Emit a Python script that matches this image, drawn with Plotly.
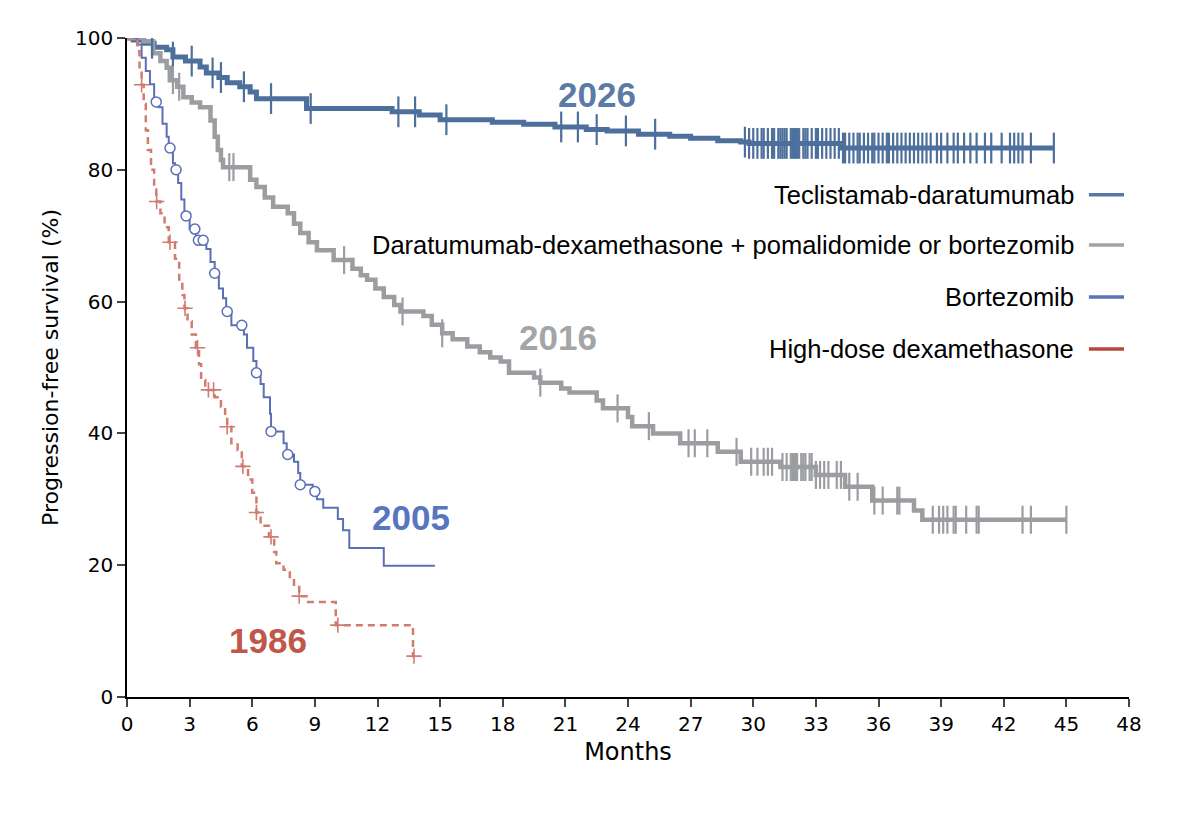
import numpy as np
import plotly.graph_objects as go

# Kaplan-Meier step points (months, % progression-free)
tec_t = [0, 0.3, 0.8, 1.3, 1.9, 2.2, 2.8, 3.5, 3.8, 4.4, 4.8, 5.4, 5.9, 6.2, 8.6,
         12.7, 14.0, 15.0, 17.5, 19.0, 20.5, 22.0, 23.0, 24.5, 26.0, 27.0, 28.3,
         29.4, 29.8, 34.2, 44.4]
tec_s = [100, 99.7, 99.2, 98.6, 98.2, 97.1, 96.5, 95.6, 94.7, 94.0, 93.2, 92.6,
         91.8, 90.8, 89.3, 88.8, 88.3, 87.6, 87.2, 86.9, 86.5, 86.1, 85.9, 85.4,
         85.1, 84.8, 84.4, 84.2, 84.0, 83.3, 83.3]
tec_cens = [1.2, 2.2, 3.1, 4.1, 4.5, 5.6, 6.9, 8.8, 13.0, 13.8, 15.3, 20.8, 21.6,
            22.5, 23.9, 25.3, 29.6, 29.8, 30.0, 30.2, 30.4, 30.5, 30.7, 30.9,
            31.0, 31.2, 31.3, 31.4, 31.5, 31.6, 31.8, 31.9, 32.0, 32.1, 32.2,
            32.4, 32.5, 32.6, 32.8, 33.0, 33.1, 33.3, 33.5, 33.7, 33.9, 34.1,
            34.3, 34.4, 34.6, 34.8, 35.0, 35.1, 35.3, 35.5, 35.7, 35.8, 36.0,
            36.2, 36.4, 36.5, 36.7, 36.9, 37.1, 37.3, 37.5, 37.7, 37.9, 38.1,
            38.3, 38.5, 38.8, 39.0, 39.3, 39.6, 39.8, 40.1, 40.4, 40.7, 41.1,
            41.4, 41.9, 42.3, 42.5, 42.7, 42.9, 43.3, 44.4]

dara_t = [0, 0.8, 1.25, 1.6, 1.9, 2.05, 2.4, 2.7, 3.1, 3.5, 4.0, 4.2, 4.35, 4.5,
          4.6, 5.9, 6.2, 6.6, 7.0, 7.7, 8.0, 8.3, 8.7, 9.1, 9.9, 10.8, 11.2, 11.5,
          11.9, 12.3, 12.8, 13.1, 14.2, 14.6, 15.1, 15.6, 16.3, 16.9, 17.4, 17.9,
          18.3, 19.5, 19.8, 20.8, 21.2, 22.5, 22.8, 24.0, 24.2, 25.2, 26.5, 28.3,
          29.4, 31.3, 33.0, 34.4, 35.7, 37.7, 38.1, 45.0]
dara_s = [100, 99.5, 97.7, 96.5, 95.5, 93.6, 92.6, 91.0, 90.2, 89.5, 87.5, 85.0,
          83.0, 81.5, 80.4, 78.5, 77.4, 75.8, 74.4, 73.4, 71.8, 70.4, 69.0, 67.8,
          66.3, 65.0, 64.0, 63.3, 62.0, 60.7, 59.5, 58.5, 57.8, 56.5, 55.2, 54.3,
          53.2, 52.3, 51.5, 50.9, 49.2, 48.5, 47.7, 46.8, 46.2, 45.0, 43.8, 42.5,
          41.1, 40.0, 38.5, 37.2, 35.7, 34.9, 33.7, 31.9, 29.8, 28.3, 26.9, 26.9]
dara_cens = [2.2, 2.5, 4.9, 5.1, 10.4, 13.2, 15.1, 19.8, 23.5, 25.0, 26.9, 27.2,
             27.8, 29.2, 29.9, 30.2, 30.5, 30.7, 30.9, 31.4, 31.6, 31.8, 31.9,
             32.0, 32.1, 32.3, 32.4, 32.5, 32.7, 32.8, 33.0, 33.2, 33.4, 33.6,
             34.0, 34.2, 34.6, 35.0, 35.8, 36.2, 36.9, 37.0, 38.6, 38.9, 39.1,
             39.3, 39.6, 39.7, 40.2, 40.7, 40.8, 42.9, 43.3, 45.0]

bort_t = [0, 0.5, 0.7, 0.9, 1.1, 1.3, 1.5, 1.7, 1.9, 2.0, 2.2, 2.3, 2.45, 2.6,
          2.75, 3.0, 3.3, 3.8, 4.0, 4.2, 4.4, 4.6, 4.75, 5.0, 5.6, 5.75, 6.05,
          6.2, 6.4, 6.55, 6.85, 6.9, 7.5, 7.65, 8.0, 8.2, 8.3, 8.9, 9.1, 9.4,
          10.1, 10.35, 10.65, 12.3, 14.75]
bort_s = [100, 99, 97, 95, 93, 90.3, 89.5, 87, 85, 83.3, 81, 80, 78, 75.5, 73,
          71, 69.3, 68, 66, 64.3, 62, 60.5, 58.5, 56.4, 55, 53, 51, 49.2, 47.5,
          45.5, 43, 40.3, 38.5, 36.8, 35.7, 34, 32.2, 31.2, 30, 28.7, 27, 25.3,
          22.6, 19.9, 19.9]
bort_cens = [1.4, 2.06, 2.35, 2.83, 3.25, 3.42, 3.65, 4.2, 4.8, 5.5, 6.2, 6.9,
             7.7, 8.3, 9.0]

dex_t = [0, 0.5, 0.6, 0.7, 0.8, 0.9, 1.0, 1.15, 1.3, 1.4, 1.6, 1.8, 2.0, 2.3,
         2.5, 2.65, 2.75, 2.9, 3.1, 3.3, 3.45, 3.55, 3.75, 4.2, 4.5, 4.7, 4.8,
         5.0, 5.3, 5.5, 5.8, 6.0, 6.2, 6.4, 6.8, 7.05, 7.15, 7.5, 7.8, 8.0, 8.25,
         8.6, 10.0, 13.7, 13.75]
dex_s = [100, 98, 95, 92.9, 90, 86, 83, 80, 77, 75.2, 73.4, 71.3, 69, 66.5, 63,
         61, 59, 57, 55, 53, 50.5, 48.1, 46.6, 45.5, 44, 42.5, 41, 38.5, 37.5, 35,
         33, 31, 28, 26, 24.3, 22, 20.3, 19.3, 18, 16.7, 15.3, 14.4, 10.9, 6.2, 6.2]
dex_cens = [0.7, 1.42, 2.06, 2.78, 3.38, 3.9, 4.15, 4.8, 5.55, 6.2, 6.9, 8.25,
            10.1, 13.75]

x_ticks = list(range(0, 49, 3))
y_ticks = [0, 20, 40, 60, 80, 100]

labels = ["Teclistamab-daratumumab",
          "Daratumumab-dexamethasone + pomalidomide or bortezomib",
          "Bortezomib",
          "High-dose dexamethasone"]
years = ["2026", "2016", "2005", "1986"]
year_pos = [(22.5, 91.5), (20.65, 54.6), (13.6, 27.2), (6.75, 8.6)]

c_tec = "#4d6f9c"
c_dara = "#9b9da1"
c_bort = "#5b6fb6"
c_dex = "#d27b6f"
year_cols = ["#5b7ba7", "#a3a5a9", "#5876c0", "#c0574b"]
legend_cols = ["#5977a6", "#a0a2a6", "#5a72ba", "#b5473d"]


def surv_at(t, s, times):
    idx = np.searchsorted(t, times, side="right") - 1
    return np.asarray(s)[idx]


fig = go.Figure()

# curves
fig.add_trace(go.Scatter(x=tec_t, y=tec_s, mode="lines", line_shape="hv",
                         line=dict(color=c_tec, width=5)))
fig.add_trace(go.Scatter(x=dara_t, y=dara_s, mode="lines", line_shape="hv",
                         line=dict(color=c_dara, width=4.5)))
fig.add_trace(go.Scatter(x=bort_t, y=bort_s, mode="lines", line_shape="hv",
                         line=dict(color=c_bort, width=2)))
fig.add_trace(go.Scatter(x=dex_t, y=dex_s, mode="lines", line_shape="hv",
                         line=dict(color=c_dex, width=2.5, dash="7px,5px")))

# censor marks
fig.add_trace(go.Scatter(x=tec_cens, y=surv_at(tec_t, tec_s, tec_cens), mode="markers",
                         marker=dict(symbol="line-ns", size=22,
                                     line=dict(color=c_tec, width=2.2))))
fig.add_trace(go.Scatter(x=dara_cens, y=surv_at(dara_t, dara_s, dara_cens), mode="markers",
                         marker=dict(symbol="line-ns", size=20,
                                     line=dict(color=c_dara, width=2.2))))
fig.add_trace(go.Scatter(x=bort_cens, y=surv_at(bort_t, bort_s, bort_cens), mode="markers",
                         marker=dict(symbol="circle", size=10, color="white",
                                     line=dict(color=c_bort, width=1.5))))
fig.add_trace(go.Scatter(x=dex_cens, y=surv_at(dex_t, dex_s, dex_cens), mode="markers",
                         marker=dict(symbol="cross-thin", size=11,
                                     line=dict(color=c_dex, width=1.6))))

# year labels
for txt, (xx, yy), col in zip(years, year_pos, year_cols):
    fig.add_annotation(x=xx, y=yy, text="<b>%s</b>" % txt, showarrow=False,
                       font=dict(family="Liberation Sans", size=35, color=col))

# hand-made legend: text right-aligned, line sample to the right
leg_y = [0.762, 0.686, 0.607, 0.528]
for lab, yy, col in zip(labels, leg_y, legend_cols):
    fig.add_annotation(xref="paper", yref="paper", x=0.947, y=yy, text=lab,
                       xanchor="right", yanchor="middle", showarrow=False,
                       font=dict(family="Liberation Sans", size=25.5, color="black"))
    fig.add_shape(type="line", xref="paper", yref="paper", x0=0.96, x1=0.995,
                  y0=yy, y1=yy, line=dict(color=col, width=3.5))

fig.update_layout(
    width=1179, height=822,
    margin=dict(l=119, r=58, t=30, b=133),
    plot_bgcolor="white", paper_bgcolor="white",
    showlegend=False,
    font=dict(family="DejaVu Sans", color="black"),
)
fig.update_xaxes(range=[0, 48], tickvals=x_ticks, ticks="outside", ticklen=8,
                 tickwidth=1.5, showline=True, linecolor="black", linewidth=1.5,
                 showgrid=False, zeroline=False, tickfont=dict(size=20),
                 title=dict(text="Months", font=dict(size=24), standoff=8))
fig.update_yaxes(range=[0, 100], tickvals=y_ticks, ticks="outside", ticklen=8,
                 tickwidth=1.5, showline=True, linecolor="black", linewidth=1.5,
                 showgrid=False, zeroline=False, tickfont=dict(size=20),
                 title=dict(text="Progression-free survival (%)", font=dict(size=22),
                            standoff=10))

fig.write_html("out.html")
